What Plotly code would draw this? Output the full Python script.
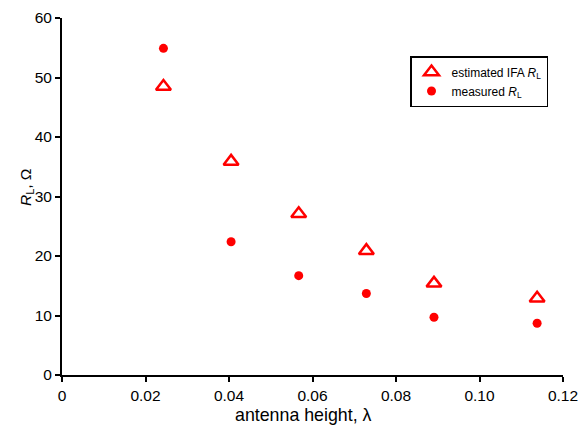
import plotly.graph_objects as go

heights = [0.0243, 0.0405, 0.0567, 0.0729, 0.0891, 0.1138]
rl_estimated = [48.5, 35.9, 27.1, 20.9, 15.4, 12.9]
rl_measured = [54.9, 22.4, 16.7, 13.7, 9.7, 8.7]

x_ticks = [0, 0.02, 0.04, 0.06, 0.08, 0.10, 0.12]
x_tick_labels = ["0", "0.02", "0.04", "0.06", "0.08", "0.10", "0.12"]
y_ticks = [0, 10, 20, 30, 40, 50, 60]

red = "#ff0000"
font = "Liberation Sans, Arial, Helvetica, sans-serif"

# plot area in pixels: x 62..563, y 18..375
def px_x(p):
    return (p - 62) / 501

def px_y(p):
    return (375 - p) / 357

fig = go.Figure()
fig.add_trace(go.Scatter(
    x=heights, y=rl_estimated, mode="markers",
    name="estimated IFA <i>R</i><sub>L</sub>",
    marker=dict(symbol="triangle-up-open", size=13, color=red,
                line=dict(width=2.5, color=red)),
))
fig.add_trace(go.Scatter(
    x=heights, y=rl_measured, mode="markers",
    name="measured <i>R</i><sub>L</sub>",
    marker=dict(symbol="circle", size=9, color=red),
))

axis_common = dict(
    showline=True, linecolor="black", linewidth=2, mirror=False,
    ticks="outside", ticklen=5, tickwidth=1.5, tickcolor="black",
    showgrid=False, zeroline=False, automargin=False,
    tickfont=dict(family=font, size=15.5, color="black"),
)

fig.add_annotation(text="antenna height, λ", xref="paper", yref="paper",
                   x=px_x(303.5), y=px_y(415), xanchor="center", yanchor="middle",
                   showarrow=False, font=dict(family=font, size=17.8, color="black"))
fig.add_annotation(text="<i>R</i><sub>L</sub>, Ω", xref="paper", yref="paper",
                   x=px_x(26), y=px_y(188), xanchor="center", yanchor="middle",
                   textangle=-90, showarrow=False,
                   font=dict(family=font, size=15.5, color="black"))

fig.update_layout(
    width=580, height=426,
    margin=dict(l=62, r=17, t=18, b=51),
    paper_bgcolor="white", plot_bgcolor="white",
    font=dict(family=font, color="black"),
    showlegend=True,
    legend=dict(
        x=px_x(410), y=px_y(56), xanchor="left", yanchor="top",
        bgcolor="white", bordercolor="black", borderwidth=1.5,
        font=dict(family=font, size=12, color="black"),
        tracegroupgap=0, itemwidth=30,
    ),
    xaxis=dict(range=[0, 0.12], tickvals=x_ticks, ticktext=x_tick_labels,
               **axis_common),
    yaxis=dict(range=[0, 60], tickvals=y_ticks,
               **axis_common),
)

fig.write_html("out.html", config={"displayModeBar": False},
               post_script="document.body.style.margin='0';")
